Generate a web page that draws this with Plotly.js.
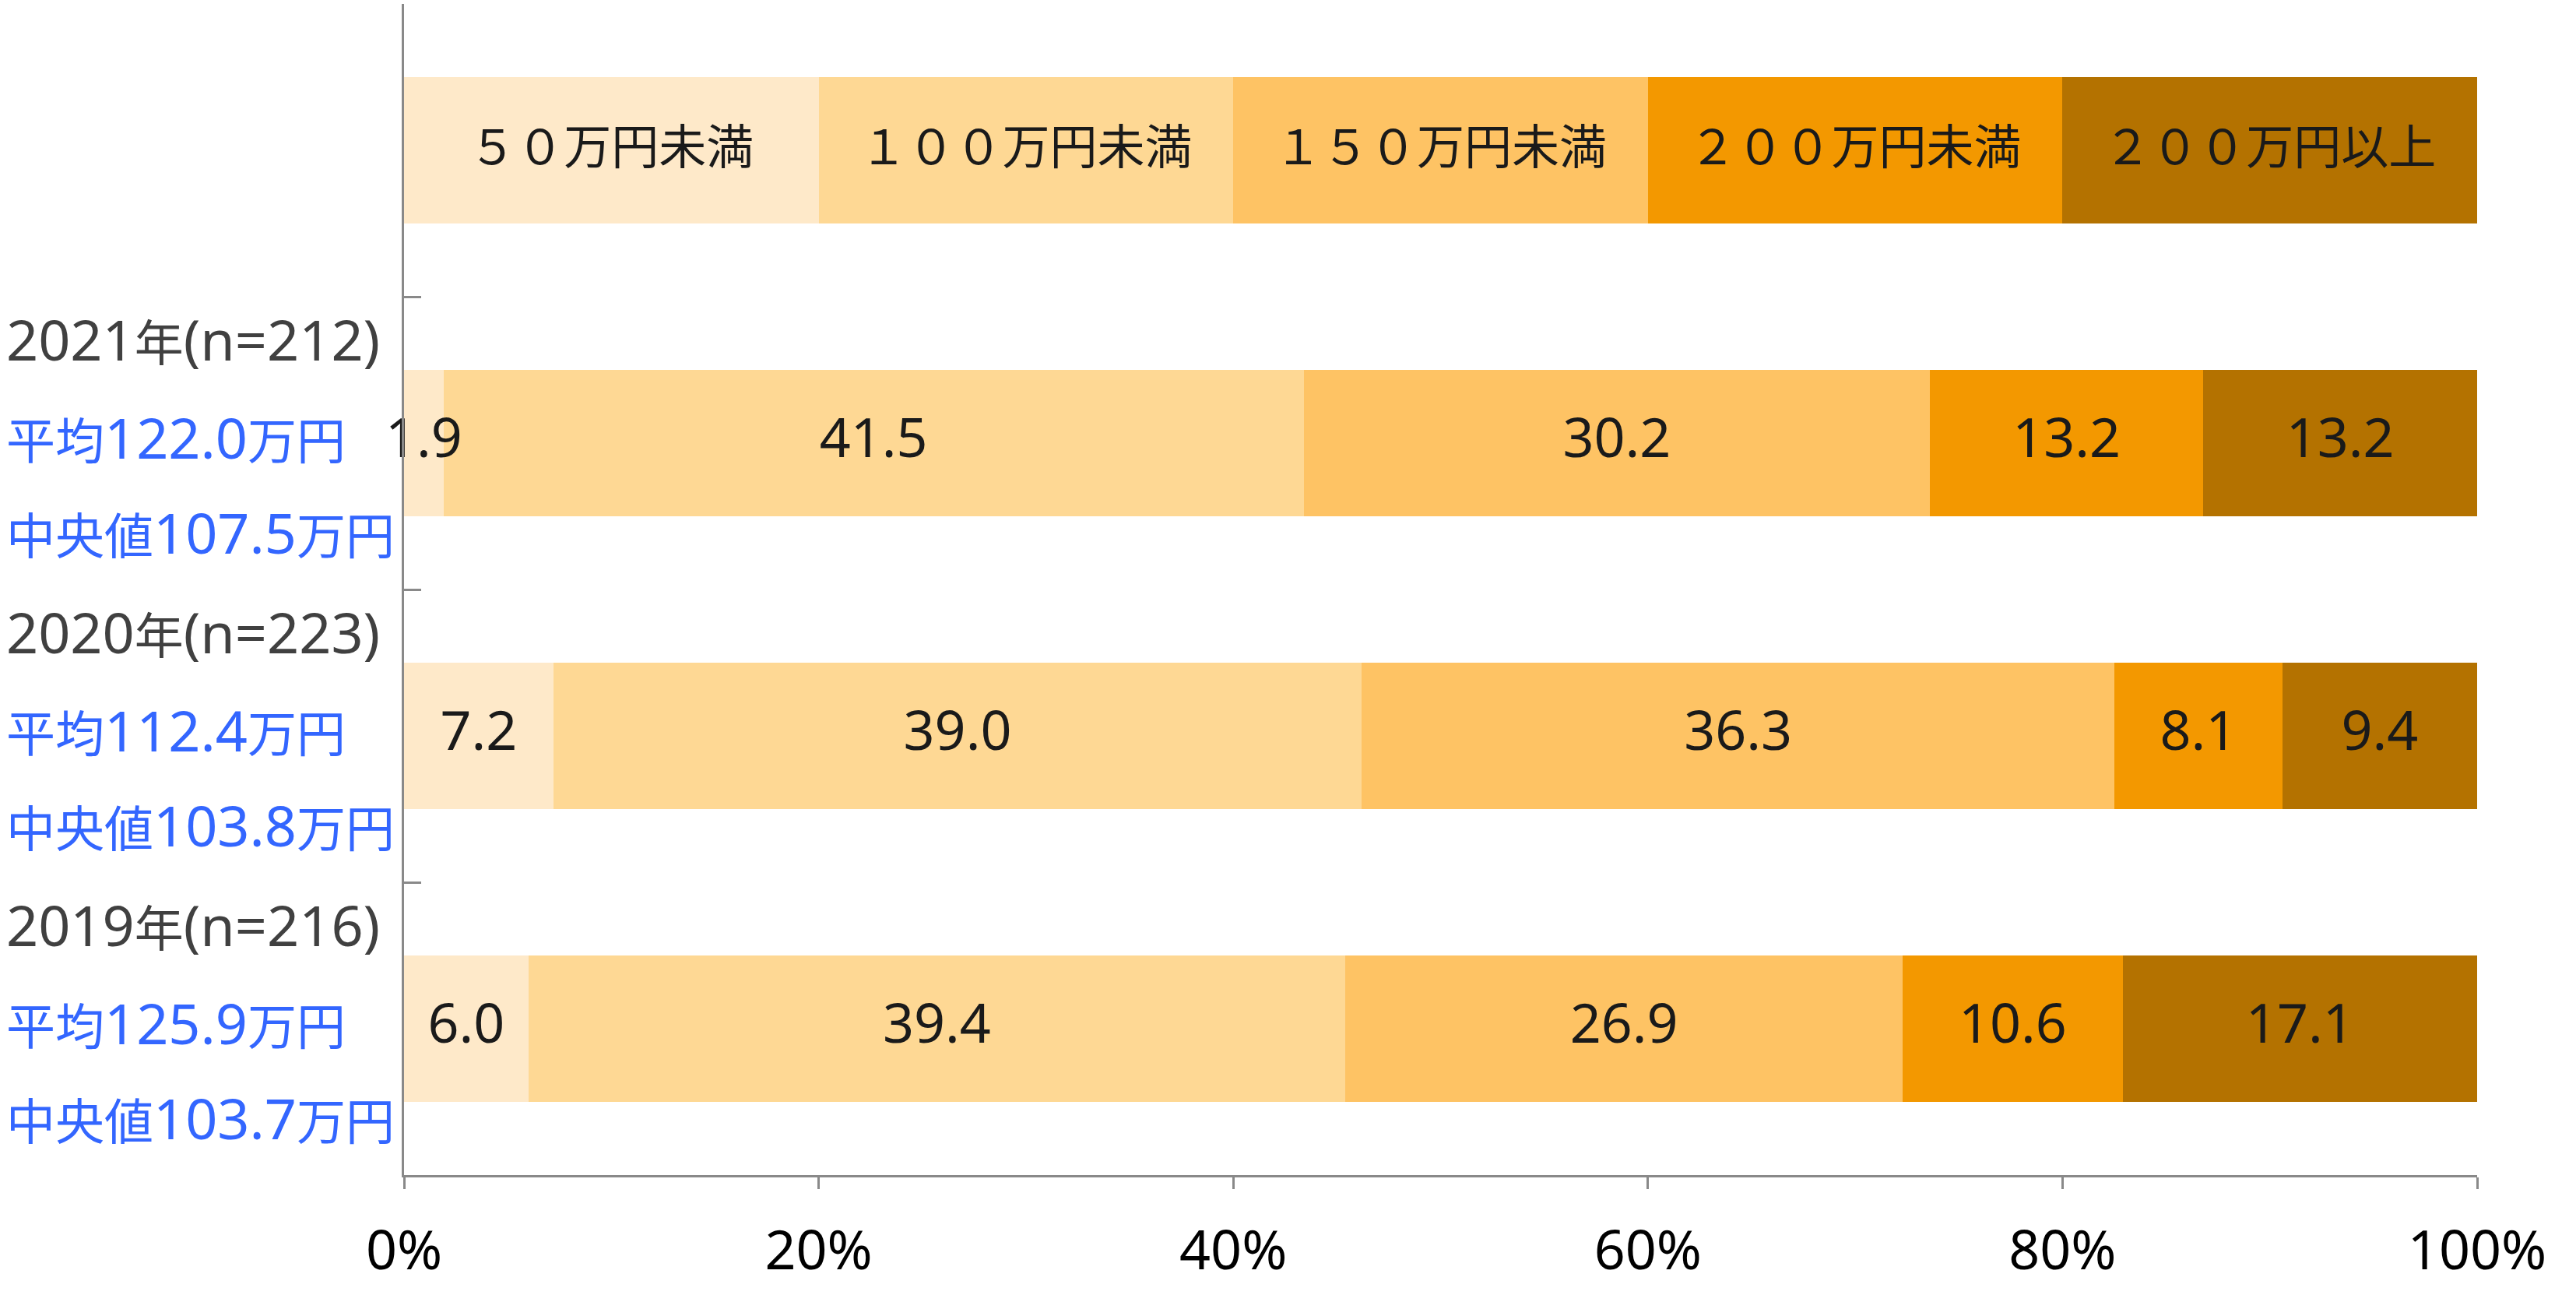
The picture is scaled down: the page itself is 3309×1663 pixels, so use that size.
<!DOCTYPE html>
<html>
<head>
<meta charset="utf-8">
<script src="https://cdn.plot.ly/plotly-3.0.1.min.js"></script>
<style>
  html, body { margin: 0; padding: 0; background: #ffffff; }
  #chart { width: 3309px; height: 1663px; }
</style>
</head>
<body>
<div id="chart"></div>
<script>
// ---- data ----
const bands = ['５０万円未満', '１００万円未満', '１５０万円未満', '２００万円未満', '２００万円以上'];
const legendRow = '凡例';
const years = ['2021年', '2020年', '2019年'];
const yearLabels = ['2021年(n=212)', '2020年(n=223)', '2019年(n=216)'];
const meanLabels = ['平均122.0万円', '平均112.4万円', '平均125.9万円'];
const medianLabels = ['中央値107.5万円', '中央値103.8万円', '中央値103.7万円'];
const legendShare = [20, 20, 20, 20, 20];
const under50 = [1.9, 7.2, 6.0];
const under100 = [41.5, 39.0, 39.4];
const under150 = [30.2, 36.3, 26.9];
const under200 = [13.2, 8.1, 10.6];
const over200 = [13.2, 9.4, 17.1];
const xTicks = [0, 20, 40, 60, 80, 100];
const xTickText = ['0%', '20%', '40%', '60%', '80%', '100%'];

// ---- style ----
const bandColors = ['#FEE9C9', '#FED894', '#FEC364', '#F39800', '#B47200'];
const FONT = 'Noto Sans, Noto Sans CJK JP, sans-serif';
const FS = 70;      // latin text size
const FS_CJK = 61;  // CJK text size
const FS_ANN = 72;
const FS_ANN_CJK = 63;
const axisGray = '#898989';

function cjk(t, size) {
  return t.replace(/([^\x00-\x7F]+)/g, '<span style="font-size:' + size + 'px">$1</span>');
}

const series = [under50, under100, under150, under200, over200];
const cats = [legendRow].concat(years);

const traces = series.map((vals, i) => ({
  type: 'bar',
  orientation: 'h',
  name: bands[i],
  y: cats,
  x: [legendShare[i]].concat(vals),
  marker: { color: bandColors[i], line: { width: 0 } },
  width: 0.5,
  hoverinfo: 'skip',
  showlegend: false
}));

// labels at the middle of each stacked segment
const lx = [], ly = [], lt = [];
let legendCum = 0;
bands.forEach((b, i) => {
  lx.push(legendCum + legendShare[i] / 2); ly.push(legendRow); lt.push(cjk(b, FS_CJK));
  legendCum += legendShare[i];
});
years.forEach((yr, k) => {
  let cum = 0;
  series.forEach(vals => {
    const v = vals[k];
    lx.push(cum + v / 2); ly.push(yr); lt.push(v.toFixed(1));
    cum += v;
  });
});
traces.push({
  type: 'scatter', mode: 'text',
  x: lx, y: ly, text: lt,
  textposition: 'middle center',
  textfont: { family: FONT, size: FS, color: '#1a1a1a' },
  hoverinfo: 'skip', showlegend: false, cliponaxis: false
});

const annotations = [];
const LEFT = -0.1927;
years.forEach((yr, k) => {
  [[yearLabels[k], '#404040', 134], [meanLabels[k], '#3366FF', 8], [medianLabels[k], '#3366FF', -114]].forEach(([t, c, s]) => {
    annotations.push({
      xref: 'paper', yref: 'y', x: LEFT, y: yr, xanchor: 'left', yanchor: 'middle',
      yshift: s, text: cjk(t, FS_ANN_CJK), showarrow: false,
      font: { family: FONT, size: FS_ANN, color: c }
    });
  });
});

const layout = {
  width: 3309, height: 1663,
  margin: { l: 519, r: 127, t: 5, b: 154, pad: 0 },
  paper_bgcolor: '#ffffff', plot_bgcolor: '#ffffff',
  barmode: 'stack',
  bargap: 0.5,
  font: { family: FONT, size: FS, color: '#000000' },
  xaxis: {
    range: [0, 100], tickmode: 'array', tickvals: xTicks, ticktext: xTickText,
    showgrid: false, zeroline: false,
    showline: true, linecolor: axisGray, linewidth: 3,
    ticks: 'outside', ticklen: 15, tickwidth: 3, tickcolor: axisGray,
    ticklabelstandoff: 19,
    tickfont: { family: FONT, size: FS, color: '#000000' },
    fixedrange: true
  },
  yaxis: {
    type: 'category', categoryorder: 'array', categoryarray: cats,
    autorange: 'reversed',
    showticklabels: false, showgrid: false, zeroline: false,
    showline: true, linecolor: axisGray, linewidth: 3,
    ticks: 'inside', tickson: 'boundaries', ticklen: 22, tickwidth: 3, tickcolor: axisGray,
    fixedrange: true
  },
  annotations: annotations
};

Plotly.newPlot('chart', traces, layout, { displayModeBar: false, staticPlot: true });
</script>
</body>
</html>
